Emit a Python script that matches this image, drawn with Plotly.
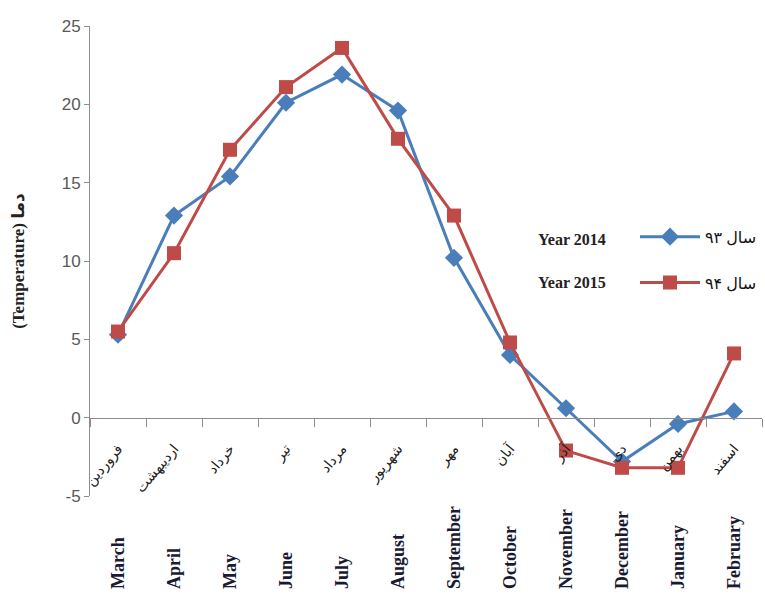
import plotly.graph_objects as go

months_fa = ["فروردین", "اردیبهشت", "خرداد", "تیر", "مرداد", "شهریور",
             "مهر", "آبان", "آذر", "دی", "بهمن", "اسفند"]
months_en = ["March", "April", "May", "June", "July", "August",
             "September", "October", "November", "December", "January", "February"]
temp_2014 = [5.3, 12.9, 15.4, 20.1, 21.9, 19.6, 10.2, 4.0, 0.6, -2.8, -0.4, 0.4]
temp_2015 = [5.5, 10.5, 17.1, 21.1, 23.6, 17.8, 12.9, 4.8, -2.1, -3.2, -3.2, 4.1]
y_ticks = [-5, 0, 5, 10, 15, 20, 25]
y_ticktext = ["-5", "0", "5", "10", "15", "20", "25"]

W, H = 765, 596
mt, mb, ml, mr = 26, 0, 90, 3
plot_h = H - mt - mb
y_bottom_px = 496          # pixel of y=-5
y_zero_px = 418            # pixel of y=0
dom0 = (H - mb - y_bottom_px) / plot_h
zero_pos = (H - mb - y_zero_px) / plot_h

fig = go.Figure()
fig.add_trace(go.Scatter(
    x=months_fa, y=temp_2014, mode="lines+markers", name="سال ۹۳",
    legendgroup="a",
    line=dict(color="#4a7ebb", width=3),
    marker=dict(symbol="diamond", size=14, color="#4a7ebb"),
))
fig.add_trace(go.Scatter(
    x=months_fa, y=temp_2015, mode="lines+markers", name="سال ۹۴",
    legendgroup="b",
    line=dict(color="#be4b48", width=3),
    marker=dict(symbol="square", size=14, color="#be4b48"),
))
# invisible trace to carry the English month axis
fig.add_trace(go.Scatter(
    x=months_en, y=[None] * len(months_en), xaxis="x2", mode="markers",
    showlegend=False, hoverinfo="skip", marker=dict(opacity=0),
))

fig.update_layout(
    width=W, height=H,
    margin=dict(l=ml, r=mr, t=mt, b=mb, autoexpand=False),
    paper_bgcolor="white", plot_bgcolor="white",
    showlegend=True,
    legend=dict(
        x=1.0, y=0.66, xanchor="right", yanchor="top",
        font=dict(family="Liberation Serif, DejaVu Sans", size=16, color="#111"),
        itemwidth=60, tracegroupgap=22, bgcolor="rgba(0,0,0,0)",
    ),
    xaxis=dict(
        type="category", categoryorder="array", categoryarray=months_fa,
        range=[-0.5, 11.5],
        anchor="free", position=zero_pos,
        showline=True, linecolor="#8c8c8c", linewidth=1,
        ticks="outside", ticklen=8, tickcolor="#8c8c8c", tickson="boundaries",
        tickangle=-50, showgrid=False, zeroline=False,
        ticklabelstandoff=16,
        tickfont=dict(family="DejaVu Sans", size=14, color="#222"),
    ),
    xaxis2=dict(
        type="category", categoryorder="array", categoryarray=months_en,
        range=[-0.5, 11.5], overlaying="x",
        anchor="free", position=0, side="top",
        showline=False, ticks="", showgrid=False, zeroline=False,
        tickangle=-90,
        tickfont=dict(family="Liberation Serif", size=18, color="#1a1a33",
                      weight="bold"),
        ticklabelstandoff=7,
    ),
    yaxis=dict(
        range=[-5, 25], domain=[dom0, 1],
        tickvals=y_ticks, ticktext=y_ticktext,
        showline=True, linecolor="#8c8c8c", linewidth=1,
        ticks="outside", ticklen=5, tickcolor="#8c8c8c",
        showgrid=False, zeroline=False,
        tickfont=dict(family="Liberation Sans", size=17, color="#595959"),
        title=dict(text="<b>(Temperature) دما</b>", standoff=32,
                   font=dict(family="Liberation Serif, DejaVu Sans", size=17, color="#222")),
    ),
    annotations=[
        dict(text="<b>Year 2014</b>", xref="paper", yref="paper", x=0.717, y=0.625,
             xanchor="center", yanchor="middle", showarrow=False,
             font=dict(family="Liberation Serif", size=16, color="#222")),
        dict(text="<b>Year 2015</b>", xref="paper", yref="paper", x=0.717, y=0.55,
             xanchor="center", yanchor="middle", showarrow=False,
             font=dict(family="Liberation Serif", size=16, color="#222")),
    ],
)

fig.write_html("out.html")
